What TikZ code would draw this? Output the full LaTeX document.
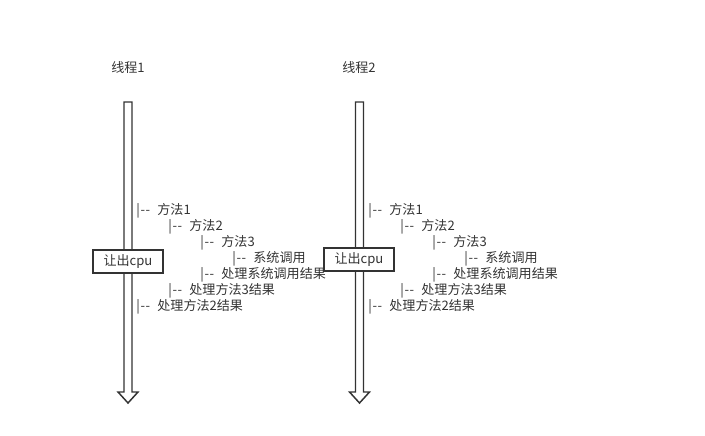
\documentclass[tikz,border=0pt]{standalone}
\usepackage{fontspec}
\setmainfont{Noto Sans CJK SC}
\definecolor{ink}{HTML}{333333}
\newcommand{\dd}{|\kern0.6pt{-}\kern0.3pt{-}\hspace{5.5pt}}
\begin{document}
\begin{tikzpicture}[x=0.75pt,y=-0.75pt,
  lbl/.style={anchor=west,inner sep=0pt,text=ink,font=\fontsize{9.8pt}{11pt}\selectfont},
  ttl/.style={inner sep=0pt,text=ink,font=\fontsize{9.8pt}{11pt}\selectfont},
  cpubox/.style={draw=ink,line width=1.4pt,fill=white,minimum width=70*0.75pt,minimum height=23*0.75pt,inner sep=0pt,text=ink,font=\fontsize{9.8pt}{11pt}\selectfont},
  shaft/.style={draw=ink,line width=1.1pt,fill=white,line join=miter}]
\useasboundingbox (0,0) rectangle (705,435);
% thread 1
\node[ttl] (title1) at (128,68) {线程1};
\draw[shaft] (124,102) -- (132,102) -- (132,392) -- (138,392) -- (128,403) -- (118,392) -- (124,392) -- cycle;
\node[lbl] (a1) at (136,211) {\dd 方法1};
\node[lbl] (a2) at (168,227) {\dd 方法2};
\node[lbl] (a3) at (200,243) {\dd 方法3};
\node[lbl] (a4) at (232,259) {\dd 系统调用};
\node[lbl] (a5) at (200,275) {\dd 处理系统调用结果};
\node[lbl] (a6) at (168,291) {\dd 处理方法3结果};
\node[lbl] (a7) at (136,307) {\dd 处理方法2结果};
\node[cpubox] (box1) at (128,261.5) {让出cpu};
% thread 2
\node[ttl] (title2) at (359,68) {线程2};
\draw[shaft] (355.5,102) -- (363.5,102) -- (363.5,392) -- (369.5,392) -- (359.5,403) -- (349.5,392) -- (355.5,392) -- cycle;
\node[lbl] (b1) at (368,211) {\dd 方法1};
\node[lbl] (b2) at (400,227) {\dd 方法2};
\node[lbl] (b3) at (432,243) {\dd 方法3};
\node[lbl] (b4) at (464,259) {\dd 系统调用};
\node[lbl] (b5) at (432,275) {\dd 处理系统调用结果};
\node[lbl] (b6) at (400,291) {\dd 处理方法3结果};
\node[lbl] (b7) at (368,307) {\dd 处理方法2结果};
\node[cpubox] (box2) at (359,259.5) {让出cpu};
\end{tikzpicture}
\end{document}
